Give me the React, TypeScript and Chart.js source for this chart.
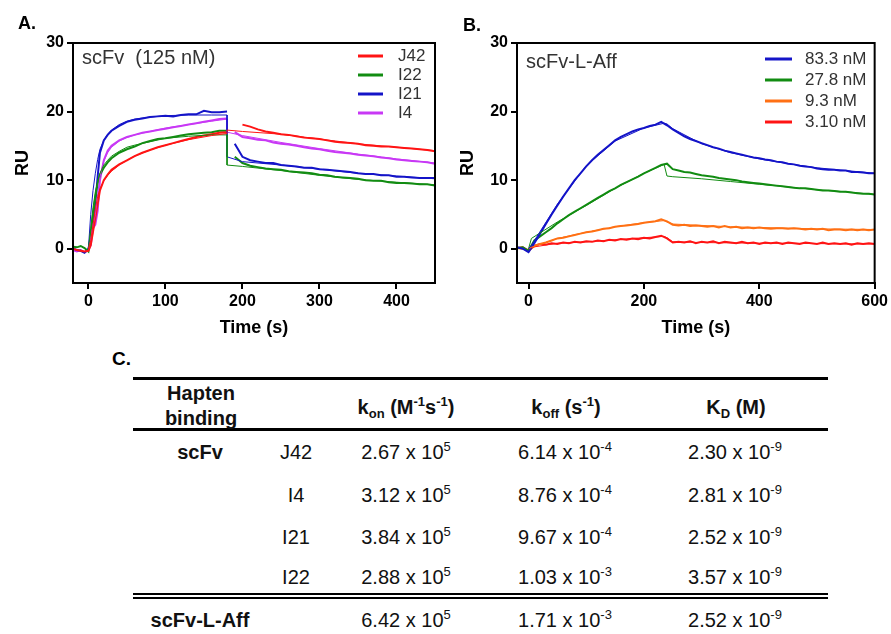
import React, { useEffect, useRef } from "react";
import { Chart, registerables } from "chart.js";
Chart.register(...registerables);

const FONT = "'Liberation Sans', Arial, Helvetica, sans-serif";

// ---------- Panel A: scFv (125 nM) ----------
const tAssocA = [-20, -15, -10, -5, 0, 3, 6, 9, 12, 15, 20, 25, 30, 40, 50, 60, 70, 80, 90, 100, 110, 120, 130, 140, 150, 160, 170, 180];
const tDissA1 = [190, 200, 210, 220, 230, 240, 250, 260, 270, 280, 290, 300, 310, 320, 330, 340, 350, 360, 370, 380, 390, 400, 410, 420, 430, 440, 450];
const tDissA2 = [200, 210, 220, 230, 240, 250, 260, 270, 280, 290, 300, 310, 320, 330, 340, 350, 360, 370, 380, 390, 400, 410, 420, 430, 440, 450];
const fitTA = [0, 3, 6, 9, 12, 15, 20, 25, 30, 40, 50, 60, 80, 100, 130, 160, 180, 180, 200, 250, 300, 350, 400, 450];

const J42Assoc = [0, -0.2, -0.3, -0.4, -0.3, 0.5, 2.5, 4.5, 6.5, 8.5, 10.0, 10.8, 11.5, 12.3, 12.9, 13.5, 14.0, 14.4, 14.8, 15.1, 15.4, 15.7, 16.0, 16.3, 16.5, 16.7, 16.9, 17.0];
const J42Diss = [18.1, 17.8, 17.4, 17.1, 16.9, 16.7, 16.6, 16.4, 16.2, 16.1, 16.0, 15.8, 15.6, 15.5, 15.4, 15.3, 15.1, 15.0, 14.9, 14.9, 14.8, 14.7, 14.6, 14.5, 14.4, 14.2];
const J42Fit = [0, 1.2, 3.5, 5.8, 7.6, 8.7, 9.9, 10.7, 11.3, 12.2, 12.9, 13.5, 14.4, 15.1, 15.9, 16.5, 16.8, 17.3, 17.1, 16.7, 16.0, 15.3, 14.8, 14.3];

const I22Assoc = [0.3, 0.2, 0.4, 0.1, -0.4, 2, 5, 7.5, 9.5, 10.8, 11.8, 12.6, 13.2, 14.0, 14.5, 14.9, 15.4, 15.7, 16.0, 16.1, 16.3, 16.5, 16.7, 16.8, 16.9, 17.0, 17.2, 17.2];
const I22Diss = [13.4, 12.5, 12.1, 11.9, 11.7, 11.6, 11.5, 11.3, 11.2, 11.1, 11.0, 10.8, 10.7, 10.5, 10.4, 10.3, 10.2, 10.0, 9.9, 9.9, 9.7, 9.6, 9.6, 9.5, 9.4, 9.4, 9.2];
const I22Fit = [0, 3, 6, 8.3, 9.8, 11, 12.2, 12.9, 13.5, 14.2, 14.8, 15.1, 15.6, 16.1, 16.4, 16.6, 16.6, 12.2, 12.0, 11.4, 10.7, 10.1, 9.7, 9.3];

const I21Assoc = [0.1, -0.2, -0.3, -0.6, 0, 1.5, 3.5, 6.5, 10.5, 14.0, 15.8, 16.6, 17.2, 17.9, 18.5, 18.8, 19.0, 19.2, 19.3, 19.4, 19.3, 19.5, 19.6, 19.6, 20.1, 19.9, 19.9, 20.0];
const I21Diss = [15.3, 13.4, 12.9, 12.7, 12.5, 12.5, 12.2, 12.1, 12.0, 11.8, 11.8, 11.6, 11.5, 11.4, 11.3, 11.2, 11.0, 10.9, 10.9, 10.7, 10.7, 10.5, 10.5, 10.4, 10.3, 10.3, 10.3];
const I21Fit = [0, 5, 8.5, 11, 13, 14.5, 15.8, 16.7, 17.3, 18.1, 18.6, 18.9, 19.2, 19.4, 19.5, 19.5, 19.5, 13.4, 12.7, 12.2, 11.6, 11.0, 10.6, 10.2];

const I4Assoc = [-0.2, -0.4, -0.2, -0.5, -0.2, 0.5, 3.0, 3.5, 5.5, 10, 12.9, 14.3, 15.0, 15.8, 16.3, 16.6, 16.9, 17.1, 17.3, 17.5, 17.7, 17.9, 18.1, 18.3, 18.5, 18.7, 18.9, 19.0];
const I4Diss = [17.0, 16.3, 16.1, 15.9, 15.8, 15.5, 15.3, 15.2, 15.0, 14.8, 14.6, 14.5, 14.3, 14.1, 14.0, 13.9, 13.7, 13.6, 13.5, 13.3, 13.2, 13.0, 12.9, 12.8, 12.7, 12.6, 12.4];
const I4Fit = [0, 1.5, 3.5, 5, 8, 10.5, 12.8, 14.0, 14.8, 15.7, 16.2, 16.6, 17.1, 17.6, 18.1, 18.6, 18.9, 17.0, 16.5, 15.5, 14.6, 13.8, 13.1, 12.5];

const xTicksA = [0, 100, 200, 300, 400];

// ---------- Panel B: scFv-L-Aff ----------
const tB = [-20, -10, 0, 10, 20, 30, 40, 50, 60, 70, 80, 90, 100, 110, 120, 130, 140, 150, 160, 170, 180, 190, 200, 210, 220, 230, 240, 250, 260, 270, 280, 290, 300, 310, 320, 330, 340, 350, 360, 370, 380, 390, 400, 410, 420, 430, 440, 450, 460, 470, 480, 490, 500, 510, 520, 530, 540, 550, 560, 570, 580, 590, 600];
const fitTB = [0, 5, 50, 100, 150, 200, 235, 240, 250, 300, 350, 400, 450, 500, 550, 600];

const nM83 = [0.2, 0.0, -0.5, 0.8, 2.2, 3.6, 5.0, 6.3, 7.6, 8.8, 10.0, 11.0, 12.0, 12.9, 13.7, 14.4, 15.1, 15.8, 16.3, 16.7, 17.1, 17.4, 17.6, 17.9, 18.1, 18.5, 18.0, 17.4, 16.9, 16.4, 16.0, 15.7, 15.4, 15.1, 14.8, 14.6, 14.3, 14.1, 13.9, 13.7, 13.5, 13.3, 13.2, 13.0, 12.9, 12.7, 12.6, 12.4, 12.3, 12.1, 12.0, 11.9, 11.7, 11.6, 11.5, 11.5, 11.4, 11.4, 11.2, 11.2, 11.1, 11.0, 11.0];
const nM27 = [0.1, 0.2, -0.3, 1.2, 1.8, 2.4, 3.0, 3.7, 4.3, 4.9, 5.4, 5.9, 6.4, 6.9, 7.4, 7.9, 8.4, 8.8, 9.3, 9.7, 10.1, 10.5, 11.0, 11.4, 11.8, 12.2, 12.4, 11.6, 11.4, 11.2, 11.1, 10.9, 10.7, 10.6, 10.5, 10.3, 10.2, 10.1, 10.0, 9.8, 9.7, 9.6, 9.5, 9.4, 9.3, 9.2, 9.1, 9.0, 8.9, 8.8, 8.8, 8.7, 8.6, 8.5, 8.5, 8.4, 8.3, 8.3, 8.2, 8.1, 8.0, 8.0, 7.9];
const nM9 = [0.1, 0, -0.2, 0.4, 0.7, 0.9, 1.2, 1.5, 1.6, 1.8, 2.0, 2.2, 2.4, 2.5, 2.7, 2.9, 3.0, 3.2, 3.3, 3.4, 3.5, 3.6, 3.8, 3.9, 4.0, 4.3, 4.0, 3.5, 3.4, 3.5, 3.3, 3.4, 3.3, 3.2, 3.3, 3.1, 3.3, 3.1, 3.2, 3.0, 3.1, 3.0, 3.1, 3.0, 2.9, 3.0, 3.0, 2.9, 3.0, 2.9, 2.8, 2.9, 2.8, 2.9, 2.7, 2.8, 2.8, 2.7, 2.8, 2.7, 2.8, 2.7, 2.8];
const nM3 = [0.1, 0.2, -0.3, 0.4, 0.7, 0.6, 0.8, 0.7, 0.9, 0.8, 1.0, 0.9, 1.1, 1.0, 1.2, 1.1, 1.3, 1.2, 1.4, 1.3, 1.5, 1.4, 1.6, 1.5, 1.7, 1.9, 1.5, 0.9, 1.0, 0.9, 1.1, 0.8, 1.0, 0.9, 1.1, 0.8, 1.0, 0.9, 0.8, 1.0, 0.8, 0.9, 0.7, 0.9, 0.8, 0.9, 0.7, 0.9, 0.8, 0.7, 0.9, 0.8, 0.7, 0.9, 0.7, 0.8, 0.7, 0.8, 0.6, 0.8, 0.7, 0.8, 0.7];
const fit83 = [0, 0.5, 6.5, 12.1, 15.7, 17.6, 18.3, 18.2, 17.5, 15.3, 14.0, 13.1, 12.4, 11.8, 11.4, 11.0];
const fit27 = [0, 1.5, 3.9, 6.3, 8.8, 11.0, 12.3, 10.6, 10.5, 10.2, 9.8, 9.4, 9.0, 8.6, 8.3, 7.9];
const fit9 = [0, 0.2, 1.5, 2.4, 3.2, 3.8, 4.1, 3.9, 3.6, 3.4, 3.2, 3.1, 3.0, 2.9, 2.85, 2.8];
const fit3 = [0, 0.2, 0.8, 1.0, 1.3, 1.6, 1.8, 1.6, 1.0, 0.9, 0.85, 0.8, 0.8, 0.75, 0.7, 0.7];

const xTicksB = [0, 200, 400, 600];
const yTicks = [0, 10, 20, 30];

// ---------- Panel C: table ----------
const groupNames = ["scFv", "", "", "", "scFv-L-Aff"];
const cloneNames = ["J42", "I4", "I21", "I22", ""];
const konMant = ["2.67", "3.12", "3.84", "2.88", "6.42"];
const konExp = ["5", "5", "5", "5", "5"];
const koffMant = ["6.14", "8.76", "9.67", "1.03", "1.71"];
const koffExp = ["-4", "-4", "-4", "-3", "-3"];
const kdMant = ["2.30", "2.81", "2.52", "3.57", "2.52"];
const kdExp = ["-9", "-9", "-9", "-9", "-9"];

const RED = "#ff1414";
const GREEN = "#128c12";
const BLUE = "#1414c8";
const MAGENTA = "#c838f5";
const ORANGE = "#ff7014";

function xy(t: number[], v: number[]) {
  return t.map((x, i) => ({ x, y: v[i] }));
}

const framePlugin = {
  id: "frame",
  afterDatasetsDraw(chart: any) {
    const { ctx, chartArea: a } = chart;
    ctx.save();
    ctx.strokeStyle = "#000";
    ctx.lineWidth = 2;
    ctx.strokeRect(a.left, a.top, a.right - a.left, a.bottom - a.top);
    ctx.restore();
  },
};

const innerPlugin = {
  id: "inner",
  afterDraw(chart: any, _args: any, opts: any) {
    const ctx = chart.ctx;
    ctx.save();
    ctx.fillStyle = "#333";
    ctx.textBaseline = "middle";
    ctx.font = `20px ${FONT}`;
    ctx.fillText(opts.label, opts.labelX, opts.labelY);
    ctx.font = `17px ${FONT}`;
    const items = chart.data.datasets.filter((d: any) => d.legend);
    items.forEach((d: any, i: number) => {
      const y = opts.legendY + i * opts.spacing;
      ctx.strokeStyle = d.borderColor;
      ctx.lineWidth = 3;
      ctx.beginPath();
      ctx.moveTo(opts.lineX1, y);
      ctx.lineTo(opts.lineX2, y);
      ctx.stroke();
      ctx.fillStyle = "#333";
      ctx.fillText(d.label, opts.textX, y);
    });
    ctx.restore();
  },
};

function makeConfig(datasets: any[], xMin: number, xMax: number, xTicks: number[], yWidth: number, padRight: number, inner: any) {
  const tickFont = { family: FONT, size: 16, weight: "bold" as const };
  const grid = { display: true, drawOnChartArea: false, drawTicks: true, tickLength: 6, lineWidth: 2, color: "#000" };
  const border = { display: true, width: 2, color: "#000" };
  return {
    type: "line" as const,
    data: { datasets },
    options: {
      animation: false as const,
      responsive: false,
      devicePixelRatio: 1,
      parsing: false as const,
      layout: { padding: { top: 43, right: padRight, left: 0, bottom: 0 } },
      elements: { point: { radius: 0 }, line: { tension: 0 } },
      plugins: { legend: { display: false }, tooltip: { enabled: false }, inner },
      scales: {
        x: {
          type: "linear" as const,
          min: xMin,
          max: xMax,
          afterBuildTicks: (s: any) => { s.ticks = xTicks.map((v) => ({ value: v })); },
          afterFit: (s: any) => { s.height = 62; },
          ticks: { font: tickFont, color: "#000", padding: 3, maxRotation: 0, autoSkip: false },
          grid,
          border,
          title: { display: true, text: "Time (s)", color: "#000", font: { family: FONT, size: 18, weight: "bold" as const }, padding: { top: 0, bottom: 6 } },
        },
        y: {
          type: "linear" as const,
          min: -5,
          max: 30,
          afterBuildTicks: (s: any) => { s.ticks = yTicks.map((v) => ({ value: v })); },
          afterFit: (s: any) => { s.width = yWidth; },
          ticks: { font: tickFont, color: "#000", padding: 3 },
          grid,
          border,
          title: { display: true, text: "RU", color: "#000", font: { family: FONT, size: 18, weight: "bold" as const }, padding: { top: 12, bottom: 0 } },
        },
      },
    },
    plugins: [framePlugin, innerPlugin],
  };
}

function dataLine(label: string, color: string, pts: any[], legend: boolean) {
  return { label, data: pts, borderColor: color, borderWidth: 2, legend, fill: false, order: 2 };
}
function fitLine(color: string, pts: any[]) {
  return { label: "fit", data: pts, borderColor: color, borderWidth: 1, legend: false, fill: false, order: 1 };
}

function ChartA() {
  const ref = useRef<HTMLCanvasElement>(null);
  useEffect(() => {
    const ds = [
      dataLine("J42", RED, xy(tAssocA, J42Assoc), true),
      dataLine("I22", GREEN, xy(tAssocA, I22Assoc), true),
      dataLine("I21", BLUE, xy(tAssocA, I21Assoc), true),
      dataLine("I4", MAGENTA, xy(tAssocA, I4Assoc), true),
      dataLine("J42", RED, xy(tDissA2, J42Diss), false),
      dataLine("I22", GREEN, xy(tDissA1, I22Diss), false),
      dataLine("I21", BLUE, xy(tDissA1, I21Diss), false),
      dataLine("I4", MAGENTA, xy(tDissA1, I4Diss), false),
      fitLine(RED, xy(fitTA, J42Fit)),
      fitLine(GREEN, xy(fitTA, I22Fit)),
      fitLine(BLUE, xy(fitTA, I21Fit)),
      fitLine(MAGENTA, xy(fitTA, I4Fit)),
    ];
    const inner = { label: "scFv  (125 nM)", labelX: 82, labelY: 58, legendY: 56, spacing: 19, lineX1: 358, lineX2: 383, textX: 398 };
    const c = new Chart(ref.current!, makeConfig(ds, -20, 450, xTicksA, 73, 10, inner) as any);
    return () => c.destroy();
  }, []);
  return <canvas ref={ref} width={445} height={345} style={{ position: "absolute", left: 0, top: 0 }} />;
}

function ChartB() {
  const ref = useRef<HTMLCanvasElement>(null);
  useEffect(() => {
    const ds = [
      dataLine("83.3 nM", BLUE, xy(tB, nM83), true),
      dataLine("27.8 nM", GREEN, xy(tB, nM27), true),
      dataLine("9.3 nM", ORANGE, xy(tB, nM9), true),
      dataLine("3.10 nM", RED, xy(tB, nM3), true),
      fitLine(BLUE, xy(fitTB, fit83)),
      fitLine(GREEN, xy(fitTB, fit27)),
      fitLine(ORANGE, xy(fitTB, fit9)),
      fitLine(RED, xy(fitTB, fit3)),
    ];
    const inner = { label: "scFv-L-Aff", labelX: 81, labelY: 62, legendY: 59, spacing: 21, lineX1: 320, lineX2: 347, textX: 360 };
    const c = new Chart(ref.current!, makeConfig(ds, -20, 600, xTicksB, 72, 14, inner) as any);
    return () => c.destroy();
  }, []);
  return <canvas ref={ref} width={446} height={345} style={{ position: "absolute", left: 445, top: 0 }} />;
}

function Cell(props: { x: number; y: number; bold?: boolean; size?: number; children: any }) {
  const { x, y, bold, size = 20, children } = props;
  return (
    <div
      style={{
        position: "absolute",
        left: x,
        top: y,
        transform: "translate(-50%, -50%)",
        whiteSpace: "nowrap",
        fontWeight: bold ? "bold" : "normal",
        fontSize: size,
        lineHeight: 1,
        color: "#111",
      }}
    >
      {children}
    </div>
  );
}

const supStyle: any = { fontSize: 13, position: "relative", top: -8 };
const subStyle: any = { fontSize: 13, position: "relative", top: 4 };

function Sci(props: { m: string; e: string }) {
  return (
    <span>
      {props.m} x 10<span style={supStyle}>{props.e}</span>
    </span>
  );
}

function Line(props: { y: number; h: number }) {
  return <div style={{ position: "absolute", left: 133, top: props.y, width: 695, height: props.h, background: "#000" }} />;
}

export default function App() {
  const rowY = [452, 495, 537, 577, 620];
  return (
    <div style={{ position: "absolute", left: 0, top: 0, width: 891, height: 634, background: "#fff", fontFamily: FONT, overflow: "hidden" }}>
      <ChartA />
      <ChartB />
      <div style={{ position: "absolute", left: 18, top: 13, fontWeight: "bold", fontSize: 18, color: "#000" }}>A.</div>
      <div style={{ position: "absolute", left: 463, top: 15, fontWeight: "bold", fontSize: 18, color: "#000" }}>B.</div>
      <div style={{ position: "absolute", left: 112, top: 348, fontWeight: "bold", fontSize: 19, color: "#000" }}>C.</div>
      <Line y={377} h={3} />
      <Line y={428} h={3} />
      <Line y={593} h={2} />
      <Line y={597} h={2} />
      <Cell x={201} y={393} bold>Hapten</Cell>
      <Cell x={201} y={418} bold>binding</Cell>
      <Cell x={406} y={407} bold>
        k<span style={subStyle}>on</span> (M<span style={supStyle}>-1</span>s<span style={supStyle}>-1</span>)
      </Cell>
      <Cell x={566} y={407} bold>
        k<span style={subStyle}>off</span> (s<span style={supStyle}>-1</span>)
      </Cell>
      <Cell x={736} y={407} bold>
        K<span style={subStyle}>D</span> (M)
      </Cell>
      {rowY.map((y, i) => (
        <React.Fragment key={i}>
          {groupNames[i] ? <Cell x={200} y={y} bold>{groupNames[i]}</Cell> : null}
          {cloneNames[i] ? <Cell x={296} y={y}>{cloneNames[i]}</Cell> : null}
          <Cell x={406} y={y}><Sci m={konMant[i]} e={konExp[i]} /></Cell>
          <Cell x={565} y={y}><Sci m={koffMant[i]} e={koffExp[i]} /></Cell>
          <Cell x={735} y={y}><Sci m={kdMant[i]} e={kdExp[i]} /></Cell>
        </React.Fragment>
      ))}
    </div>
  );
}
